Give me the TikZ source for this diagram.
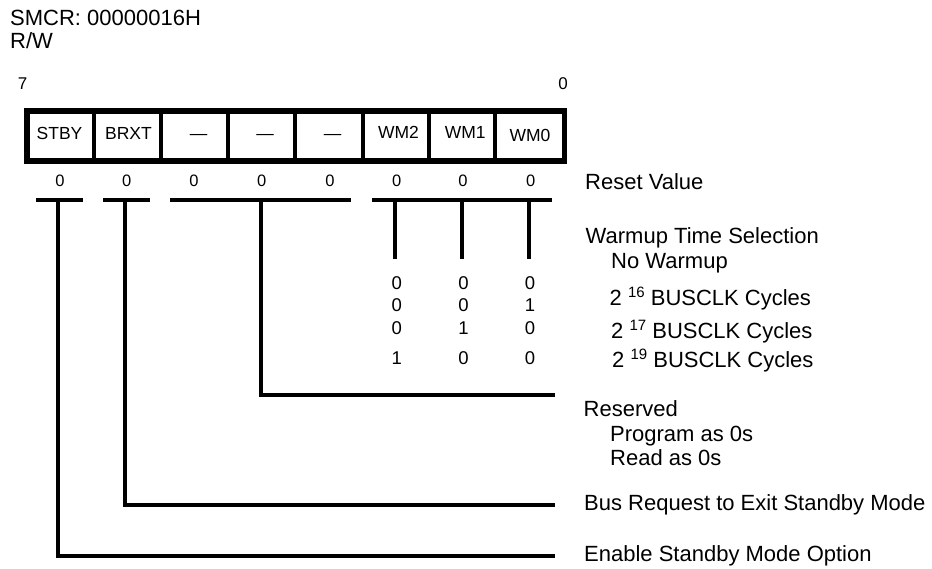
\documentclass[tikz,border=0pt]{standalone}
\usepackage{fontspec}
\setmainfont{Liberation Sans}
\newcommand{\fsz}[1]{\fontsize{#1}{#1}\selectfont}
\newcommand{\supx}[1]{\raisebox{7.5pt}{\fsz{15}#1}}
\begin{document}
\begin{tikzpicture}[x=1pt,y=-1pt,
  lbl/.style={inner sep=0pt, anchor=base west, font=\fsz{22}},
  bitlbl/.style={inner sep=0pt, anchor=base, font=\fsz{17.5}},
  bitnum/.style={inner sep=0pt, anchor=base, font=\fsz{17}},
  rst/.style={inner sep=0pt, anchor=base, font=\fsz{16.5}},
  tbl/.style={inner sep=0pt, anchor=base, font=\fsz{18.5}},
  bar/.style={line width=4pt},
  frame/.style={line width=5.5pt},
  divider/.style={line width=4pt}]
\useasboundingbox (0,0) rectangle (932,569);

% title
\node[lbl] (title) at (10,26) {SMCR: 00000016H};
\node[lbl] (rw) at (10,49) {R/W};
\node[bitnum] (n7) at (22.5,90) {7};
\node[bitnum] (n0) at (563,90) {0};

% register frame
\coordinate (fa) at (26.8,110.8);
\coordinate (fb) at (564.5,161.2);
\draw[frame] (fa) rectangle (fb);
\foreach \x [count=\i] in {94,160.7,228,295,362.7,429.3,495.3}{
  \coordinate (dt\i) at (\x,110.8);
  \coordinate (db\i) at (\x,161.2);
  \draw[divider] (dt\i) -- (db\i);
}

% bit names
\node[bitlbl] (c7) at (59.5,140) {STBY};
\node[bitlbl] (c6) at (128.5,140) {BRXT};
\node[bitlbl] (c5) at (198.5,140) {—};
\node[bitlbl] (c4) at (265,140) {—};
\node[bitlbl] (c3) at (332.5,140) {—};
\node[bitlbl] (c2) at (398.5,138.5) {WM2};
\node[bitlbl] (c1) at (465.3,138.5) {WM1};
\node[bitlbl] (c0) at (530,142) {WM0};

% reset values
\foreach \x [count=\i] in {60,126.7,194,261.7,330,396.7,463,530.7}{
  \node[rst] (r\i) at (\x,187) {0};
}
\node[lbl] (reset) at (585,189.5) {Reset Value};

% bars under reset values
\coordinate (b7a) at (36,199.7);  \coordinate (b7b) at (83,199.7);
\coordinate (b6a) at (103,199.7); \coordinate (b6b) at (150,199.7);
\coordinate (b5a) at (170,199.7); \coordinate (b5b) at (351,199.7);
\coordinate (b2a) at (372,199.7); \coordinate (b2b) at (552.3,199.7);
\draw[bar] (b7a) -- (b7b);
\draw[bar] (b6a) -- (b6b);
\draw[bar] (b5a) -- (b5b);
\draw[bar] (b2a) -- (b2b);

% drop lines to descriptions
\coordinate (s7) at (58,199.7);   \coordinate (e7) at (555,555.7);
\coordinate (s6) at (125,199.7);  \coordinate (e6) at (555,505);
\coordinate (s5) at (260.5,199.7);\coordinate (e5) at (555,395);
\draw[bar] (s7) |- (e7);
\draw[bar] (s6) |- (e6);
\draw[bar] (s5) |- (e5);

% WM drops
\foreach \x [count=\i] in {394.5,462,528.7}{
  \coordinate (w\i a) at (\x,199.7);
  \coordinate (w\i b) at (\x,259);
  \draw[bar] (w\i a) -- (w\i b);
}

% warmup table
\foreach \y/\a/\b/\c [count=\j] in {289.6/0/0/0, 312/0/0/1, 334.5/0/1/0, 364.6/1/0/0}{
  \node[tbl] (t\j a) at (396.7,\y) {\a};
  \node[tbl] (t\j b) at (463.5,\y) {\b};
  \node[tbl] (t\j c) at (530,\y) {\c};
}

% descriptions
\node[lbl] (wts) at (585.5,244) {Warmup Time Selection};
\node[lbl] (nw) at (611,269) {No Warmup};
\node[lbl] (c16) at (609.5,305.5) {2 \supx{16} BUSCLK Cycles};
\node[lbl] (c17) at (611,338.5) {2 \supx{17} BUSCLK Cycles};
\node[lbl] (c19) at (612,367) {2 \supx{19} BUSCLK Cycles};

\node[lbl] (res) at (583.5,416) {Reserved};
\node[lbl] (prg) at (610,441.5) {Program as 0s};
\node[lbl] (rd) at (610,465) {Read as 0s};
\node[lbl] (brx) at (584,510) {Bus Request to Exit Standby Mode};
\node[lbl] (esm) at (584,561.5) {Enable Standby Mode Option};
\end{tikzpicture}
\end{document}
